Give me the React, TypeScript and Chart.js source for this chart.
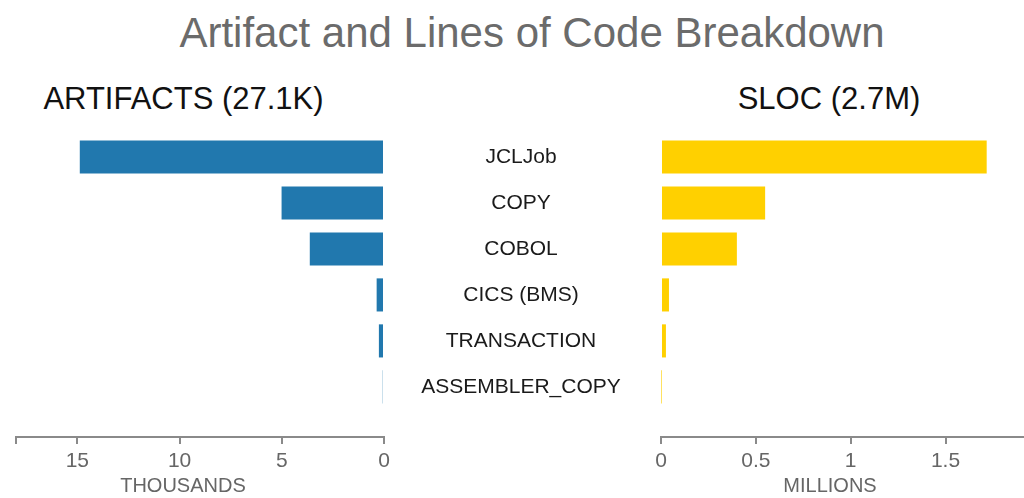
import React, { useEffect, useRef } from "react";
import { Chart, registerables } from "chart.js";

Chart.register(...registerables);

// ---- data ----
const categories = ["JCLJob", "COPY", "COBOL", "CICS (BMS)", "TRANSACTION", "ASSEMBLER_COPY"];
const artifactsThousands = [14.88, 5.01, 3.63, 0.36, 0.25, 0.06];
const slocMillions = [1.717, 0.549, 0.4, 0.042, 0.026, 0.002];
const artifactTicks = [0, 5, 10, 15];
const slocTicks = [0, 0.5, 1, 1.5];
const mainTitle = "Artifact and Lines of Code Breakdown";
const leftTitle = "ARTIFACTS (27.1K)";
const rightTitle = "SLOC (2.7M)";
const leftAxisTitle = "THOUSANDS";
const rightAxisTitle = "MILLIONS";

const FONT = "'Liberation Sans', Arial, Helvetica, sans-serif";
const BLUE = "#2178ae";
const YELLOW = "#ffd000";
const AXIS = "#8a8a8a";
const TICK_TEXT = "#666666";

const LABEL_SIZE = 21;
const TICK_SIZE = 21;

function xScale(reverse: boolean, max: number, step: number, shown: number[], includeBounds: boolean) {
  return {
    type: "linear" as const,
    position: "bottom" as const,
    reverse,
    min: 0,
    max,
    ticks: {
      stepSize: step,
      includeBounds,
      autoSkip: false,
      maxRotation: 0,
      padding: 5,
      color: TICK_TEXT,
      font: { size: TICK_SIZE, family: FONT },
      callback: (v: number) => (shown.some((s) => Math.abs(s - v) < 1e-9) ? String(v) : ""),
    },
    grid: {
      display: true,
      drawOnChartArea: false,
      drawTicks: true,
      tickLength: 7,
      color: AXIS,
      lineWidth: 2,
    },
    border: { display: true, color: AXIS, width: 2 },
    afterFit: (s: any) => {
      s.height = 60;
    },
  };
}

function yScale(display: boolean, position: "left" | "right", padding: number) {
  return {
    type: "linear" as const,
    display,
    position,
    reverse: true,
    offset: false,
    min: -0.5,
    max: 6.09,
    bounds: "data" as const,
    grid: { display: false, drawTicks: false, offset: false },
    border: { display: false },
    ticks: {
      autoSkip: false,
      padding,
      crossAlign: "center" as const,
      color: "#1a1a1a",
      font: { size: LABEL_SIZE, family: FONT },
      callback: (v: number) => categories[v as number] ?? "",
    },
    afterBuildTicks: (s: any) => {
      s.ticks = categories.map((_, i) => ({ value: i }));
    },
    afterFit: (s: any) => {
      s.width = display ? 276 : 0;
    },
  };
}

export default function App() {
  const leftRef = useRef<HTMLCanvasElement | null>(null);
  const rightRef = useRef<HTMLCanvasElement | null>(null);

  useEffect(() => {
    document.body.style.margin = "0";
    // measure widest category label to centre labels in the middle gap
    const mctx = document.createElement("canvas").getContext("2d")!;
    mctx.font = `${LABEL_SIZE}px ${FONT}`;
    const widest = Math.max(...categories.map((c) => mctx.measureText(c).width));
    const labelPad = 137 - widest / 2;

    const common = {
      responsive: false,
      animation: false as const,
      indexAxis: "y" as const,
      plugins: { legend: { display: false }, tooltip: { enabled: false }, title: { display: false } },
    };

    const left = new Chart(leftRef.current!, {
      type: "bar",
      data: {
        datasets: [
          {
            data: categories.map((_, i) => ({ x: artifactsThousands[i], y: i })),
            backgroundColor: BLUE,
            borderWidth: 0,
            barPercentage: 0.72,
            categoryPercentage: 1,
          },
        ],
      },
      options: {
        ...common,
        layout: { padding: { left: 16, right: 0, top: 134, bottom: 1 } },
        scales: {
          x: xScale(true, 18, 5, artifactTicks, true) as any,
          y: yScale(true, "right", labelPad) as any,
        },
      },
    });

    const right = new Chart(rightRef.current!, {
      type: "bar",
      data: {
        datasets: [
          {
            data: categories.map((_, i) => ({ x: slocMillions[i], y: i })),
            backgroundColor: YELLOW,
            borderWidth: 0,
            barPercentage: 0.72,
            categoryPercentage: 1,
          },
        ],
      },
      options: {
        ...common,
        layout: { padding: { left: 21, right: 0, top: 134, bottom: 1 } },
        scales: {
          x: xScale(false, 2.23, 0.5, slocTicks, false) as any,
          y: yScale(false, "left", 0) as any,
        },
      },
    });

    return () => {
      left.destroy();
      right.destroy();
    };
  }, []);

  const textBase: React.CSSProperties = {
    position: "absolute",
    fontFamily: FONT,
    whiteSpace: "nowrap",
    lineHeight: 1,
    textAlign: "center",
  };

  return (
    <div
      style={{
        position: "fixed",
        left: 0,
        top: 0,
        width: 1024,
        height: 498,
        overflow: "hidden",
        background: "#fff",
      }}
    >
      <div style={{ ...textBase, left: 0, width: 1064, top: 12, fontSize: 42, color: "#6b6b6b" }}>{mainTitle}</div>
      <div style={{ ...textBase, left: 0, width: 367, top: 83, fontSize: 31, color: "#111" }}>{leftTitle}</div>
      <div style={{ ...textBase, left: 729, width: 200, top: 83, fontSize: 31, color: "#111" }}>{rightTitle}</div>
      <canvas
        ref={leftRef}
        width={660}
        height={498}
        style={{ position: "absolute", left: 0, top: 0, width: 660, height: 498 }}
      />
      <canvas
        ref={rightRef}
        width={444}
        height={498}
        style={{ position: "absolute", left: 640, top: 0, width: 444, height: 498 }}
      />
      <div style={{ ...textBase, left: 83, width: 200, top: 475, fontSize: 20, color: TICK_TEXT }}>
        {leftAxisTitle}
      </div>
      <div style={{ ...textBase, left: 730, width: 200, top: 475, fontSize: 20, color: TICK_TEXT }}>
        {rightAxisTitle}
      </div>
    </div>
  );
}
